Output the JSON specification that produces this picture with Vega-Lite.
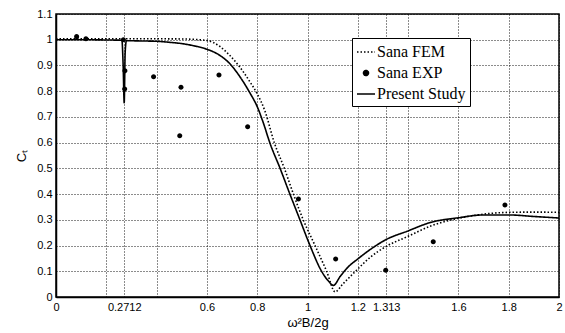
{
  "$schema": "https://vega.github.io/schema/vega-lite/v6.json",
  "width": 503,
  "height": 283,
  "autosize": {"type": "none"},
  "padding": {"left": 56, "top": 14, "right": 6, "bottom": 36},
  "background": "white",
  "config": {
    "view": {"stroke": "black", "strokeWidth": 1.5},
    "axis": {
      "labelFont": "Liberation Sans",
      "labelFontSize": 11,
      "labelColor": "black",
      "titleFont": "Liberation Sans",
      "titleFontSize": 13,
      "titleFontWeight": "normal",
      "titleColor": "black",
      "domainColor": "black",
      "domainWidth": 1.5,
      "gridColor": "black",
      "gridDash": [1, 2],
      "gridOpacity": 0.9,
      "gridWidth": 1,
      "ticks": false,
      "labelPadding": 4
    },
    "legend": {
      "orient": "none",
      "legendX": 296,
      "legendY": 24,
      "strokeColor": "black",
      "fillColor": "white",
      "padding": 4,
      "labelFont": "Liberation Serif",
      "labelFontSize": 16,
      "labelColor": "black",
      "symbolSize": 324,
      "symbolStrokeColor": "black",
      "symbolFillColor": "black",
      "symbolStrokeWidth": 1.5,
      "rowPadding": 3,
      "labelOffset": 1
    }
  },
  "data": {
    "values": [
      {"series": "Present Study", "x": 0, "y": 1.0},
      {"series": "Present Study", "x": 0.1, "y": 1.0},
      {"series": "Present Study", "x": 0.2, "y": 0.999},
      {"series": "Present Study", "x": 0.262, "y": 0.998},
      {"series": "Present Study", "x": 0.267, "y": 0.9},
      {"series": "Present Study", "x": 0.2712, "y": 0.755},
      {"series": "Present Study", "x": 0.275, "y": 0.95},
      {"series": "Present Study", "x": 0.28, "y": 0.996},
      {"series": "Present Study", "x": 0.35, "y": 0.995},
      {"series": "Present Study", "x": 0.4, "y": 0.994},
      {"series": "Present Study", "x": 0.45, "y": 0.99},
      {"series": "Present Study", "x": 0.5, "y": 0.985},
      {"series": "Present Study", "x": 0.55, "y": 0.976},
      {"series": "Present Study", "x": 0.6, "y": 0.963},
      {"series": "Present Study", "x": 0.65, "y": 0.94},
      {"series": "Present Study", "x": 0.69, "y": 0.908},
      {"series": "Present Study", "x": 0.73, "y": 0.858},
      {"series": "Present Study", "x": 0.77, "y": 0.795},
      {"series": "Present Study", "x": 0.8, "y": 0.74},
      {"series": "Present Study", "x": 0.825, "y": 0.675},
      {"series": "Present Study", "x": 0.85, "y": 0.6},
      {"series": "Present Study", "x": 0.891, "y": 0.5},
      {"series": "Present Study", "x": 0.93, "y": 0.4},
      {"series": "Present Study", "x": 0.97, "y": 0.3},
      {"series": "Present Study", "x": 1.01, "y": 0.2},
      {"series": "Present Study", "x": 1.056, "y": 0.1},
      {"series": "Present Study", "x": 1.085, "y": 0.06},
      {"series": "Present Study", "x": 1.103, "y": 0.045},
      {"series": "Present Study", "x": 1.13, "y": 0.08},
      {"series": "Present Study", "x": 1.16, "y": 0.115},
      {"series": "Present Study", "x": 1.2, "y": 0.148},
      {"series": "Present Study", "x": 1.25, "y": 0.185},
      {"series": "Present Study", "x": 1.31, "y": 0.222},
      {"series": "Present Study", "x": 1.4, "y": 0.257},
      {"series": "Present Study", "x": 1.49, "y": 0.29},
      {"series": "Present Study", "x": 1.6, "y": 0.308},
      {"series": "Present Study", "x": 1.7, "y": 0.319},
      {"series": "Present Study", "x": 1.8, "y": 0.319},
      {"series": "Present Study", "x": 1.9, "y": 0.313},
      {"series": "Present Study", "x": 2.0, "y": 0.307},
      {"series": "Sana FEM", "x": 0, "y": 1.004},
      {"series": "Sana FEM", "x": 0.3, "y": 1.004},
      {"series": "Sana FEM", "x": 0.5, "y": 1.003},
      {"series": "Sana FEM", "x": 0.6, "y": 0.997},
      {"series": "Sana FEM", "x": 0.65, "y": 0.975},
      {"series": "Sana FEM", "x": 0.69, "y": 0.94},
      {"series": "Sana FEM", "x": 0.73, "y": 0.895},
      {"series": "Sana FEM", "x": 0.77, "y": 0.838},
      {"series": "Sana FEM", "x": 0.8, "y": 0.79},
      {"series": "Sana FEM", "x": 0.83, "y": 0.725},
      {"series": "Sana FEM", "x": 0.868, "y": 0.6},
      {"series": "Sana FEM", "x": 0.908, "y": 0.5},
      {"series": "Sana FEM", "x": 0.944, "y": 0.4},
      {"series": "Sana FEM", "x": 0.983, "y": 0.3},
      {"series": "Sana FEM", "x": 1.03, "y": 0.2},
      {"series": "Sana FEM", "x": 1.076, "y": 0.1},
      {"series": "Sana FEM", "x": 1.11, "y": 0.02},
      {"series": "Sana FEM", "x": 1.14, "y": 0.05},
      {"series": "Sana FEM", "x": 1.196, "y": 0.105},
      {"series": "Sana FEM", "x": 1.25, "y": 0.155},
      {"series": "Sana FEM", "x": 1.312, "y": 0.196},
      {"series": "Sana FEM", "x": 1.4, "y": 0.236},
      {"series": "Sana FEM", "x": 1.49, "y": 0.276},
      {"series": "Sana FEM", "x": 1.6, "y": 0.306},
      {"series": "Sana FEM", "x": 1.7, "y": 0.322},
      {"series": "Sana FEM", "x": 1.8, "y": 0.329},
      {"series": "Sana FEM", "x": 1.9, "y": 0.33},
      {"series": "Sana FEM", "x": 2.0, "y": 0.329},
      {"series": "Sana EXP", "x": 0.082, "y": 1.012},
      {"series": "Sana EXP", "x": 0.119, "y": 1.004},
      {"series": "Sana EXP", "x": 0.268, "y": 1.0},
      {"series": "Sana EXP", "x": 0.274, "y": 0.879},
      {"series": "Sana EXP", "x": 0.273, "y": 0.808},
      {"series": "Sana EXP", "x": 0.388, "y": 0.856},
      {"series": "Sana EXP", "x": 0.497, "y": 0.815},
      {"series": "Sana EXP", "x": 0.492, "y": 0.627},
      {"series": "Sana EXP", "x": 0.648, "y": 0.863},
      {"series": "Sana EXP", "x": 0.762, "y": 0.662},
      {"series": "Sana EXP", "x": 0.964, "y": 0.381},
      {"series": "Sana EXP", "x": 1.112, "y": 0.148},
      {"series": "Sana EXP", "x": 1.311, "y": 0.104},
      {"series": "Sana EXP", "x": 1.5, "y": 0.215},
      {"series": "Sana EXP", "x": 1.785, "y": 0.358}
    ]
  },
  "encoding": {
    "x": {
      "field": "x",
      "type": "quantitative",
      "scale": {"domain": [0, 2], "nice": false},
      "axis": {
        "title": "ω²B/2g",
        "values": [0, 0.2, 0.2712, 0.4, 0.6, 0.8, 1, 1.2, 1.313, 1.4, 1.6, 1.8, 2],
        "labelExpr": "indexof([0.2, 0.4, 1.4], datum.value) >= 0 ? '' : toString(datum.value)",
        "labelOverlap": false,
        "labelFlush": false,
        "titlePadding": 4
      }
    },
    "y": {
      "field": "y",
      "type": "quantitative",
      "scale": {"domain": [0, 1.1], "nice": false},
      "axis": {
        "title": "Cₜ",
        "values": [0, 0.1, 0.2, 0.3, 0.4, 0.5, 0.6, 0.7, 0.8, 0.9, 1, 1.1],
        "labelExpr": "toString(datum.value)",
        "labelOverlap": false,
        "labelFlush": false,
        "titlePadding": 8
      }
    }
  },
  "layer": [
    {
      "transform": [{"filter": "datum.series !== 'Sana EXP'"}],
      "mark": {"type": "line", "color": "black", "strokeWidth": 1.6, "interpolate": "monotone"},
      "encoding": {
        "strokeDash": {
          "field": "series",
          "type": "nominal",
          "scale": {
            "domain": ["Sana FEM", "Sana EXP", "Present Study"],
            "range": [[1.5, 2], [1, 0], [1, 0]]
          },
          "legend": {
            "title": null,
            "symbolStrokeColor": "black",
            "encode": {"symbols": {"update": {"stroke": {"value": "black"}, "strokeWidth": {"value": 1.5}, "fill": {"value": "black"}}}}
          }
        }
      }
    },
    {
      "transform": [{"filter": "datum.series === 'Sana EXP'"}],
      "mark": {"type": "point", "filled": true, "color": "black", "opacity": 1, "size": 324},
      "encoding": {
        "shape": {
          "field": "series",
          "type": "nominal",
          "scale": {
            "domain": ["Sana FEM", "Sana EXP", "Present Study"],
            "range": ["stroke", "M-0.28,0A0.28,0.28,0,1,0,0.28,0A0.28,0.28,0,1,0,-0.28,0Z", "stroke"]
          },
          "legend": {
            "title": null,
            "symbolStrokeColor": "black",
            "encode": {"symbols": {"update": {"stroke": {"value": "black"}, "strokeWidth": {"value": 1.5}, "fill": {"value": "black"}}}}
          }
        }
      }
    }
  ]
}
